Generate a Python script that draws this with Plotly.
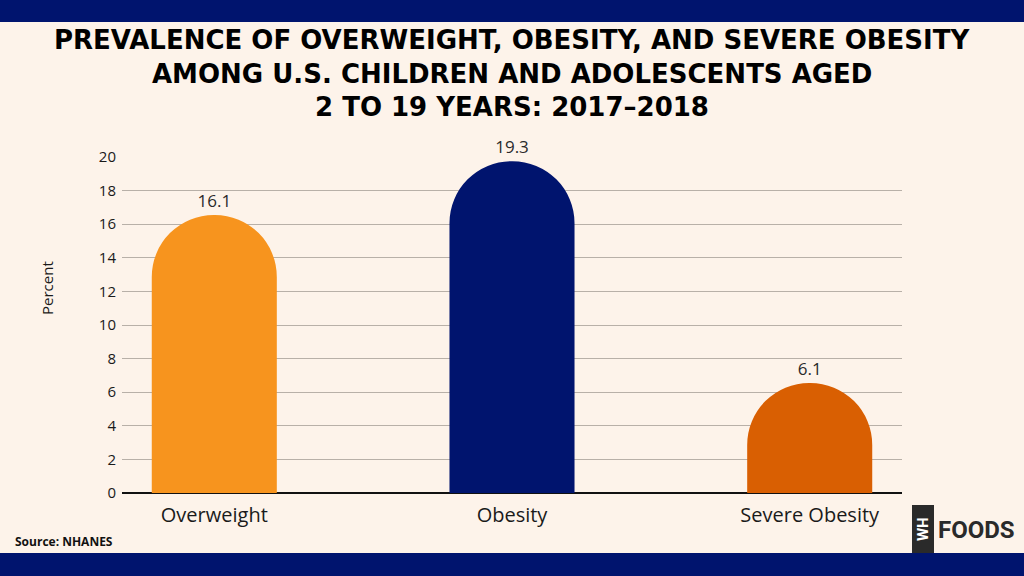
import plotly.graph_objects as go

categories = ["Overweight", "Obesity", "Severe Obesity"]
values = [16.1, 19.3, 6.1]
bar_colors = ["#F7941E", "#00146E", "#D95F02"]
y_ticks = [0, 2, 4, 6, 8, 10, 12, 14, 16, 18, 20]
title_lines = [
    "PREVALENCE OF OVERWEIGHT, OBESITY, AND SEVERE OBESITY",
    "AMONG U.S. CHILDREN AND ADOLESCENTS AGED",
    "2 TO 19 YEARS: 2017\u20132018",
]
y_title = "Percent"
source_text = "Source: NHANES"

# the rounded cap drawn in the reference rises slightly above the value
CAP = 0.45

W, H = 1024, 576
L, R, T, B = 122, 122, 157, 83
PW, PH = W - L - R, H - T - B
NAVY = "#00146E"
BG = "#FDF3EA"
FONT = "Open Sans"
TFONT = "DejaVu Sans"


def px(x):
    return (x - L) / PW


def py(y):
    return (H - B - y) / PH


fig = go.Figure()
fig.add_trace(go.Bar(
    x=categories,
    y=[v + CAP for v in values],
    width=0.42,
    marker=dict(color=bar_colors, cornerradius="50%", line=dict(width=0)),
    text=[f"{v}" for v in values],
    textposition="outside",
    textfont=dict(family=FONT, size=17, color="#2a2a2a"),
    cliponaxis=False,
    hoverinfo="skip",
))

annotations = []
for i, line in enumerate(title_lines):
    annotations.append(dict(
        text=f"<b>{line}</b>", xref="paper", yref="paper",
        x=px(512), y=py(40 + 33.5 * i), xanchor="center", yanchor="middle",
        showarrow=False, font=dict(family=TFONT, size=26, color="#000000"),
    ))
annotations.append(dict(
    text=y_title, xref="paper", yref="paper",
    x=px(47), y=py(288), xanchor="center", yanchor="middle", showarrow=False,
    textangle=-90, font=dict(family=FONT, size=15, color="#1a1a1a"),
))
annotations.append(dict(
    text=f"<b>{source_text}</b>", xref="paper", yref="paper",
    x=px(13), y=py(541), xanchor="left", yanchor="middle", showarrow=False,
    font=dict(family=FONT, size=12, color="#111111"),
))
annotations.append(dict(
    text="<b>WH</b>", xref="paper", yref="paper",
    x=px(923), y=py(529), xanchor="center", yanchor="middle", showarrow=False,
    textangle=-90, font=dict(family="Roboto", size=15, color="#FFFFFF"),
))
annotations.append(dict(
    text="<b>FOODS</b>", xref="paper", yref="paper",
    x=px(936), y=py(530), xanchor="left", yanchor="middle", showarrow=False,
    font=dict(family="Roboto", size=24, color="#2a2a2a", weight=900),
))

shapes = [
    dict(type="rect", xref="paper", yref="paper", x0=-0.5, x1=1.5,
         y0=py(22), y1=py(-20), fillcolor=NAVY, line=dict(width=0), layer="below"),
    dict(type="rect", xref="paper", yref="paper", x0=-0.5, x1=1.5,
         y0=py(600), y1=py(553), fillcolor=NAVY, line=dict(width=0), layer="below"),
    dict(type="rect", xref="paper", yref="paper", x0=px(912), x1=px(934),
         y0=py(553), y1=py(505), fillcolor="#2a2a2a", line=dict(width=0)),
]

fig.update_layout(
    width=W, height=H,
    margin=dict(l=L, r=R, t=T, b=B, pad=0),
    paper_bgcolor=BG, plot_bgcolor=BG,
    showlegend=False,
    annotations=annotations,
    shapes=shapes,
    xaxis=dict(
        range=[-0.31, 2.31], showgrid=False, zeroline=False, showline=False,
        ticks="", ticklabelstandoff=8,
        tickfont=dict(family=FONT, size=20, color="#1a1a1a"),
        fixedrange=True,
    ),
    yaxis=dict(
        range=[0, 20], tickvals=y_ticks, showgrid=True, gridcolor="#B8B0A8",
        gridwidth=1, zeroline=True, zerolinecolor="#111111", zerolinewidth=2,
        showline=False, ticks="", ticklabelstandoff=5,
        tickfont=dict(family=FONT, size=15, color="#1a1a1a"),
        fixedrange=True,
    ),
)

fig.write_html(
    "out.html",
    config={"displayModeBar": False},
    post_script="document.body.style.margin='0';document.body.style.overflow='hidden';",
)
